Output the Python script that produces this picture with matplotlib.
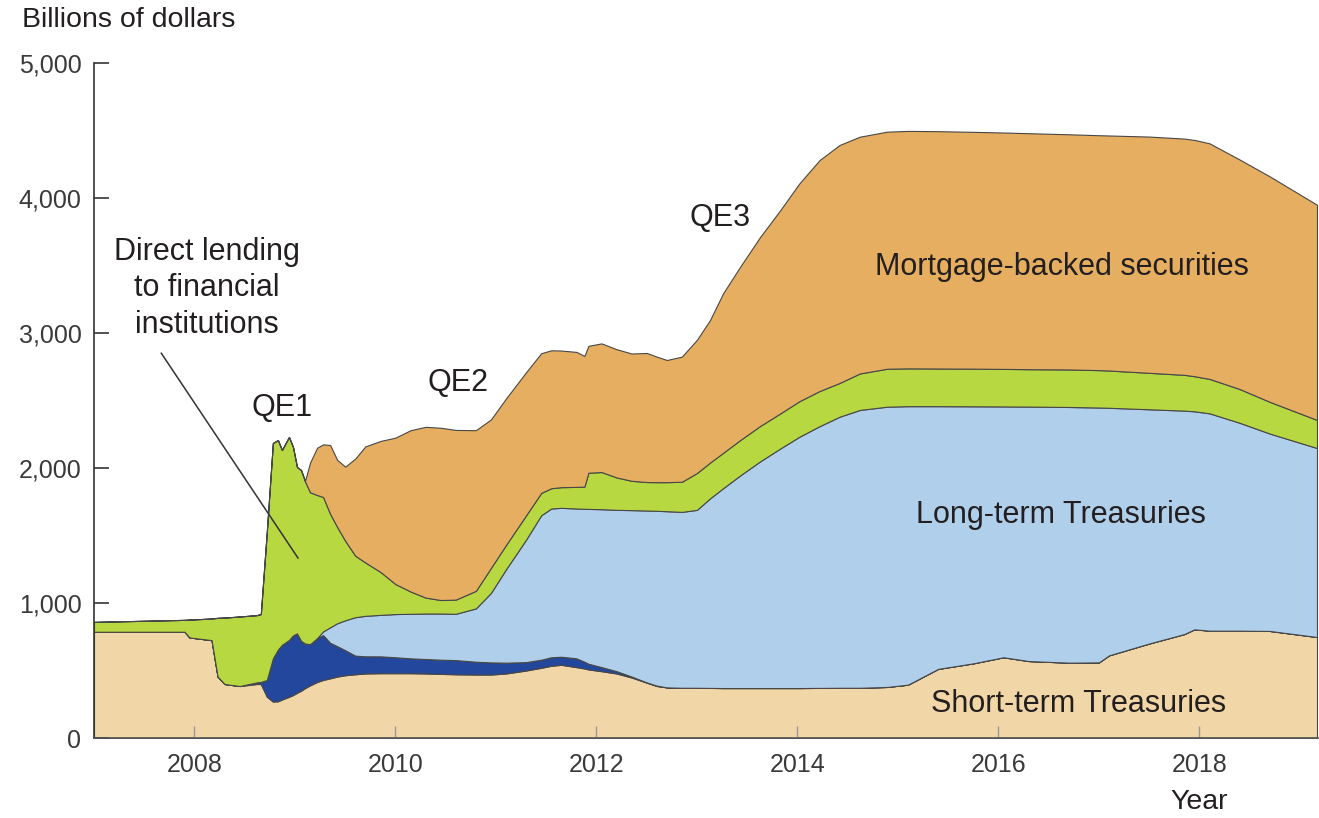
import matplotlib
matplotlib.use("Agg")
import matplotlib.pyplot as plt

plt.rcParams['font.family'] = ['Liberation Sans', 'DejaVu Sans']

# years sampled along the chart
years = [2007.0, 2007.9, 2007.95, 2008.17, 2008.23, 2008.3, 2008.45, 2008.62, 2008.66,
         2008.72, 2008.78, 2008.83, 2008.87, 2008.94, 2008.98, 2009.02, 2009.06, 2009.1,
         2009.15, 2009.22, 2009.28, 2009.35, 2009.42, 2009.5, 2009.6, 2009.7, 2009.85,
         2010.0, 2010.15, 2010.3, 2010.45, 2010.6, 2010.8, 2010.95, 2011.1, 2011.3,
         2011.45, 2011.55, 2011.65, 2011.8, 2011.88, 2011.92, 2012.05, 2012.2, 2012.35,
         2012.5, 2012.6, 2012.7, 2012.85, 2013.0, 2013.13, 2013.26, 2013.43, 2013.63,
         2013.83, 2014.02, 2014.22, 2014.42, 2014.62, 2014.89, 2015.1, 2015.4, 2015.75,
         2016.05, 2016.3, 2016.7, 2017.0, 2017.1, 2017.5, 2017.85, 2017.95, 2018.1,
         2018.4, 2018.7, 2019.17]

# holdings, billions of dollars
short_term = [787, 787, 745, 725, 455, 400, 385, 400, 400,
              306, 270, 272, 285, 305, 318, 335, 350, 370,
              390, 415, 430, 442, 455, 465, 472, 478, 480,
              480, 480, 478, 475, 472, 470, 470, 478, 500,
              520, 535, 542, 525, 515, 508, 495, 478, 448,
              410, 385, 375, 372, 372, 371, 370, 370, 370,
              370, 370, 371, 372, 372, 378, 395, 512, 553,
              598, 570, 558, 560, 612, 700, 770, 805, 795,
              795, 793, 748]
other_lending = [0, 0, 0, 0, 0, 0, 0, 12, 15,
                 124, 320, 383, 405, 421, 442, 440, 370, 330,
                 305, 325, 332, 263, 225, 185, 138, 127, 125,
                 118, 110, 107, 105, 105, 95, 90, 80, 62,
                 60, 63, 60, 65, 50, 42, 30, 17, 7,
                 2, 3, 0, 0, 0, 0, 0, 0, 0,
                 0, 0, 0, 0, 0, 0, 0, 0, 0,
                 0, 0, 0, 0, 0, 0, 0, 0, 0,
                 0, 0, 0]
long_term = [0, 0, 0, 0, 0, 0, 0, 0, 0,
             0, 0, 0, 0, 0, 0, 0, 0, 0,
             0, 0, 28, 115, 170, 222, 285, 300, 307,
             320, 330, 337, 342, 343, 395, 515, 692, 908,
             1070, 1102, 1103, 1110, 1133, 1147, 1170, 1195, 1233,
             1273, 1295, 1305, 1303, 1318, 1404, 1480, 1575, 1680,
             1775, 1862, 1939, 2008, 2058, 2076, 2063, 1946, 1904,
             1858, 1885, 1894, 1888, 1834, 1735, 1655, 1615, 1610,
             1540, 1462, 1400]
direct_lending = [73, 88, 132, 160, 435, 492, 515, 498, 503,
                  1100, 1595, 1552, 1443, 1504, 1396, 1232, 1265, 1200,
                  1125, 1060, 995, 840, 713, 588, 455, 395, 318,
                  222, 165, 118, 100, 105, 130, 185, 180, 180,
                  165, 150, 153, 160, 164, 268, 275, 240, 217,
                  211, 212, 215, 223, 273, 265, 262, 262, 262,
                  260, 263, 260, 250, 270, 281, 280, 279, 279,
                  278, 277, 278, 277, 276, 270, 265, 260, 255,
                  250, 235, 208]
mbs = [0, 0, 0, 0, 0, 0, 0, 0, 0,
       0, 0, 0, 0, 0, 0, 0, 0, 5,
       220, 350, 390, 510, 497, 550, 720, 860, 970,
       1085, 1195, 1265, 1276, 1257, 1190, 1100, 1085, 1060,
       1035, 1022, 1012, 1000, 968, 940, 953, 950, 943,
       956, 930, 905, 927, 987, 1056, 1182, 1284, 1401,
       1506, 1614, 1711, 1763, 1754, 1756, 1759, 1758, 1754,
       1751, 1748, 1742, 1740, 1741, 1750, 1750, 1750, 1745,
       1700, 1670, 1594]

colors = ['#F1D6A8', '#22479C', '#AFCFEB', '#B8D842', '#E5AE60']
text_col = '#231f20'

fig = plt.figure(figsize=(13.19, 8.18), dpi=100)
ax = fig.add_axes([94 / 1319, 80 / 818, 1225 / 1319, 675 / 818])

ax.stackplot(years, short_term, other_lending, long_term, direct_lending, mbs,
             colors=colors, edgecolor='#474747', linewidth=0.8)

ax.set_xlim(2007, 2019.19)
ax.set_ylim(0, 5000)
ax.spines['top'].set_visible(False)
ax.spines['right'].set_visible(False)
ax.spines['left'].set_color('#333333')
ax.spines['bottom'].set_color('#555555')
ax.spines['left'].set_linewidth(1.2)
ax.spines['bottom'].set_linewidth(1.2)

ax.set_yticks([0, 1000, 2000, 3000, 4000, 5000])
ax.set_yticklabels(['0', '1,000', '2,000', '3,000', '4,000', '5,000'])
ax.set_xticks([2008, 2010, 2012, 2014, 2016, 2018])
ax.tick_params(axis='y', direction='in', length=11, width=1.2, color='#333333',
               labelsize=18, labelcolor='#3a3a3a', pad=9)
ax.tick_params(axis='x', direction='in', length=9, width=1, color='#999999',
               labelsize=18, labelcolor='#3a3a3a', pad=11)

fig.text(22 / 1319, 1 - 20 / 818, 'Billions of dollars', fontsize=20.5,
         color=text_col, ha='left', va='center')
fig.text(1199 / 1319, 1 - 802 / 818, 'Year', fontsize=20.5,
         color=text_col, ha='center', va='center')

lab = dict(fontsize=22, color=text_col, ha='center', va='center')
ax.text(2008.87, 2444, 'QE1', **lab)
ax.text(2010.62, 2630, 'QE2', **lab)
ax.text(2013.23, 3852, 'QE3', **lab)
ax.text(2008.12, 3330, 'Direct lending\nto financial\ninstitutions',
        linespacing=1.27, **lab)
ax.text(2016.63, 3489, 'Mortgage-backed securities', **lab)
ax.text(2016.62, 1652, 'Long-term Treasuries', **lab)
ax.text(2016.80, 252, 'Short-term Treasuries', **lab)

ax.plot([2007.67, 2009.03], [2850, 1333], color='#333333', linewidth=1.1)

plt.savefig('out.png', dpi=100)
